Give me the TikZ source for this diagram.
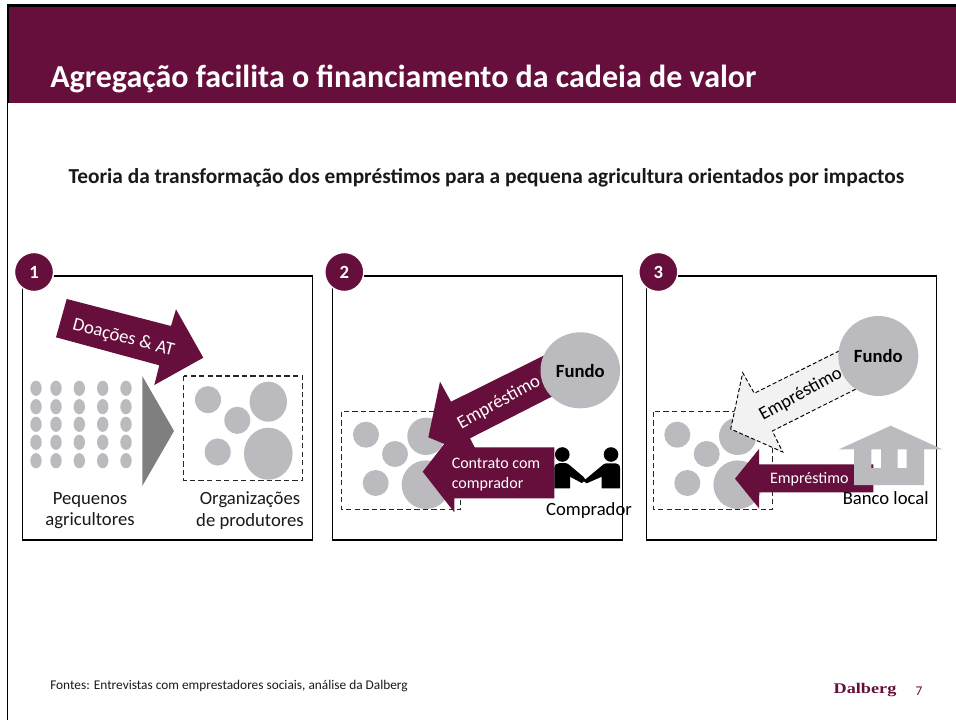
\documentclass[tikz,border=0pt]{standalone}
\usepackage{fontspec}
\usepackage{graphicx}
\setmainfont{Carlito}
\definecolor{plum}{HTML}{660F3C}
\definecolor{blob}{HTML}{BBBABE}
\definecolor{tri}{HTML}{7F7F7F}
\definecolor{pale}{HTML}{F2F2F2}
\newcommand{\pxs}[1]{\fontsize{#1pt}{#1pt}\selectfont}
\tikzset{
  x=0.75pt,y=-0.75pt,
  panel/.style={draw=black,line width=0.85pt,fill=white},
  badge/.style={circle,fill=plum,draw=white,line width=1pt,minimum size=39*0.75pt,inner sep=0pt,text=white,font=\pxs{14}\bfseries},
  dbox/.style={draw=black!85,line width=0.85pt,dash pattern=on 4pt off 2.4pt},
  blobfill/.style={fill=blob,draw=none},
  plumarrow/.style={fill=plum,draw=none},
  lbl/.style={font=\pxs{14},text=black!90,align=center,inner sep=0pt},
  wlbl/.style={font=\pxs{12},text=white,align=left,inner sep=0pt},
  rlbl/.style={font=\pxs{14},inner sep=0pt},
  fundo/.style={font=\pxs{14}\bfseries,inner sep=0pt,text=black},
}
\begin{document}
\begin{tikzpicture}
\useasboundingbox (0,0) rectangle (956,720);
\fill[white] (0,0) rectangle (956,720);
% header
\fill[plum] (8,5) rectangle (956,103.5);
\fill[black] (6.7,4.5) rectangle (956,7);
\fill[black] (6.7,4.5) rectangle (9,103.5);
\fill[black] (6.7,103) rectangle (8.3,720);
\node[anchor=base west,inner sep=0pt,text=white,font=\pxs{24}\bfseries] (title) at (50,87.5) {Agregação facilita o financiamento da cadeia de valor};
\node[anchor=center,inner sep=0pt,text=black!90,font=\pxs{16}\bfseries] (subtitle) at (486.5,178) {Teoria da transformação dos empréstimos para a pequena agricultura orientados por impactos};
% panels
\draw[panel] (22.5,276) rectangle (312.5,540);
\draw[panel] (332.5,276) rectangle (622.5,540);
\draw[panel] (646.7,276) rectangle (936.7,540);
\node[badge] (b1) at (34,272) {1};
\node[badge] (b2) at (344.3,272) {2};
\node[badge] (b3) at (658.3,272) {3};
% panel 1
\fill[plumarrow] (66.7,299) -- (171,326) -- (176,309.3) -- (203.3,357.7) -- (154.3,385) -- (159.3,365.3) -- (56,337.3) -- cycle;
\node[rotate=-14.5,font=\pxs{14},text=white,inner sep=0pt] (doa) at (123.5,338) {Doações \& AT};
\foreach \cx in {36,56,79.3,102.7,126}
  \foreach \cy in {388.3,406.7,424.3,442.3,460.7}
    \fill[blobfill] (\cx,\cy) ellipse [x radius=5.7,y radius=7.6];
\fill[tri] (142.3,376) -- (174,431) -- (142.3,486) -- cycle;
\draw[dbox] (183.7,376) rectangle (302.7,480.7);
\fill[blobfill] (208,399.7) ellipse [x radius=13,y radius=13.6];
\fill[blobfill] (268.3,401.7) ellipse [x radius=18.7,y radius=20];
\fill[blobfill] (237.3,420.3) ellipse [x radius=13,y radius=13.6];
\fill[blobfill] (217.7,452) ellipse [x radius=13,y radius=13.6];
\fill[blobfill] (268.3,453.7) ellipse [x radius=24.3,y radius=26];
\node[lbl] (peq) at (90,510.5) {Pequenos\\[2.3pt]agricultores};
\node[lbl] (org) at (250,510.5) {Organizações\\[2.3pt]de produtores};
% panel 2
\draw[dbox] (341.7,411.7) rectangle (460.7,509.7);
\fill[blobfill] (366,434.7) ellipse [x radius=13,y radius=13];
\fill[blobfill] (426,436.3) ellipse [x radius=18.7,y radius=18.7];
\fill[blobfill] (395,454) ellipse [x radius=13,y radius=13];
\fill[blobfill] (375.7,483) ellipse [x radius=13,y radius=13];
\fill[blobfill] (426,484.7) ellipse [x radius=24.3,y radius=24.3];
\fill[plumarrow] (548,353.5) -- (451,401.7) -- (440,381.7) -- (428.3,437.3) -- (480.7,459) -- (470,438.3) -- (556,394.5) -- cycle;
\fill[blobfill] (580.3,370.3) ellipse [x radius=39.8,y radius=38];
\node[fundo] (f2) at (580.3,371) {Fundo};
\node[rotate=29,font=\pxs{14},text=white,inner sep=0pt] (e2) at (499,402.5) {Empréstimo};
\fill[plumarrow] (554.3,447.3) -- (554.3,498.3) -- (454.3,498.3) -- (454.3,512.3) -- (422.7,471.7) -- (454.3,431) -- (454.3,447.3) -- cycle;
\node[wlbl] (cc) at (496,474.3) {Contrato com\\[3pt]comprador};
% handshake
\fill[black] (562.3,454.5) circle (7.3);
\fill[black] (611,454.5) circle (7.3);
\fill[black] (554.3,468) .. controls (554.3,464.5) and (557,463) .. (560,463) -- (565,463) .. controls (567,463) and (568,464) .. (570,465.5) -- (583.3,476.7) -- (585.7,480) -- (581.7,483) -- (570,476.7) -- (570,488.3) -- (554.3,488.3) -- cycle;
\fill[black] (620,468) .. controls (620,464.5) and (617.5,463.3) .. (614,463.3) -- (606.7,463.3) .. controls (604.5,463.3) and (603,464.5) .. (601.5,466) -- (586.7,478.3) -- (583.5,481) -- (586.7,483.3) -- (601.7,476.7) -- (601.7,488.3) -- (620,488.3) -- cycle;
\node[rlbl] (comp) at (589,511) {Comprador};
% panel 3
\draw[dbox] (653.7,411.7) rectangle (772.3,509.7);
\fill[blobfill] (677.3,434.7) ellipse [x radius=13,y radius=13];
\fill[blobfill] (737.7,436.3) ellipse [x radius=18.7,y radius=18.7];
\fill[blobfill] (706.7,454) ellipse [x radius=13,y radius=13];
\fill[blobfill] (687.3,483) ellipse [x radius=13,y radius=13];
\fill[blobfill] (737.7,484.7) ellipse [x radius=24.3,y radius=24.3];
\draw[fill=pale,draw=black,line width=0.7pt,dash pattern=on 3pt off 1.8pt] (845,348) -- (754.3,393.3) -- (742.7,372.7) -- (730.7,429) -- (782.7,452) -- (772.3,431) -- (860,387) -- cycle;
\fill[blobfill] (878.3,356) ellipse [x radius=40,y radius=40];
\node[fundo] (f3) at (878.3,356.5) {Fundo};
\node[rotate=29,font=\pxs{14},text=black,inner sep=0pt] (e3) at (800.7,394.3) {Empréstimo};
\fill[plumarrow] (735,478.7) -- (759,449) -- (759,464.3) -- (873.3,464.3) -- (873.3,492.3) -- (759,492.3) -- (759,508.3) -- cycle;
\node[font=\pxs{12},text=white,inner sep=0pt] (e3b) at (809.3,479.5) {Empréstimo};
\fill[blobfill,even odd rule] (890.7,425.7) -- (942.3,449.3) -- (924,449.3) -- (924,485) -- (854,485) -- (854,449.3) -- (839,449.3) -- cycle
  (871.3,449.3) rectangle (881,468) (897.7,449.3) rectangle (906.7,468);
\node[rlbl] (banco) at (885.7,498.3) {Banco local};
% footer
\node[anchor=base west,inner sep=0pt,font=\pxs{10},text=black!90] (src) at (50,689) {Fontes: Entrevistas com emprestadores sociais, análise da Dalberg};
\node[inner sep=0pt,text=plum,font={\fontspec{Liberation Serif}\pxs{13}\bfseries}] (logo) at (865,690) {\scalebox{1.05}[0.85]{Dalberg}};
\node[inner sep=0pt,text=plum,font=\pxs{10}] (pg) at (919,691) {7};
\end{tikzpicture}
\end{document}
